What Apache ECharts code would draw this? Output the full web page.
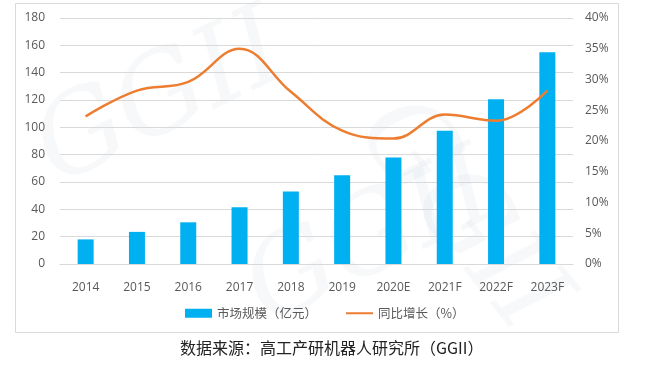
<!DOCTYPE html>
<html><head><meta charset="utf-8">
<script src="https://cdn.jsdelivr.net/npm/echarts@6/dist/echarts.min.js"></script>
<style>html,body{margin:0;padding:0;background:#fff}#c{width:672px;height:374px}</style>
</head><body><div id="c"></div>
<script>
const categories = ['2014','2015','2016','2017','2018','2019','2020E','2021F','2022F','2023F'];
const marketSize = [18, 23.5, 30.5, 41.5, 53, 65, 78, 97.5, 120.5, 155];
const growth = [24, 28.2, 29.6, 35, 28, 21.7, 20.4, 24.3, 23.3, 28.2];
const leftTicks = [0, 180, 20];
const rightTicks = [0, 40, 5];
const seriesNames = ['市场规模（亿元）', '同比增长（%）'];
const caption = '数据来源：高工产研机器人研究所（GGII）';
const watermark = 'GGII';

const chart = echarts.init(document.getElementById('c'), null, {renderer: 'canvas'});
const axisFont = {color: '#595959', fontSize: 12, fontFamily: 'Open Sans, Noto Sans CJK SC, sans-serif'};
const wmStyle = {text: watermark, fill: 'rgba(190,205,222,0.14)', fontSize: 110, fontStyle: 'italic', fontFamily: 'DejaVu Serif, serif'};
chart.setOption({
  animation: false,
  textStyle: {fontFamily: 'Noto Sans CJK SC, sans-serif'},
  graphic: [
    {type: 'rect', shape: {x: 15.5, y: 3.5, width: 603, height: 329}, style: {fill: 'none', stroke: '#d9d9d9', lineWidth: 1}, z: -1},
    {type: 'text', x: 20, y: 110, rotation: 0.45, style: wmStyle, z: -2, silent: true},
    {type: 'text', x: 230, y: 250, rotation: 0.45, style: wmStyle, z: -2, silent: true},
    {type: 'text', x: 420, y: 80, rotation: -0.9, style: wmStyle, z: -2, silent: true},
    {type: 'text', left: 180, top: 340, style: {text: caption, fill: '#222', fontSize: 16, fontFamily: 'Noto Sans CJK SC, sans-serif'}}
  ],
  grid: {left: 60, right: 99, top: 18, bottom: 110, containLabel: false},
  legend: {
    top: 302, left: 180,
    itemGap: 28,
    itemWidth: 27, itemHeight: 9,
    textStyle: {color: '#595959', fontSize: 12.5},
    data: [{name: seriesNames[0], icon: 'rect'}, {name: seriesNames[1], itemStyle: {opacity: 0}}]
  },
  xAxis: {
    type: 'category', data: categories,
    axisLine: {lineStyle: {color: '#d9d9d9'}},
    axisTick: {show: false},
    axisLabel: Object.assign({margin: 18}, axisFont)
  },
  yAxis: [
    {type: 'value', min: leftTicks[0], max: leftTicks[1], interval: leftTicks[2],
     splitLine: {lineStyle: {color: '#d9d9d9'}}, axisLine: {show: false}, axisTick: {show: false},
     axisLabel: Object.assign({margin: 15}, axisFont)},
    {type: 'value', min: rightTicks[0], max: rightTicks[1], interval: rightTicks[2],
     splitLine: {show: false}, axisLine: {show: false}, axisTick: {show: false},
     axisLabel: Object.assign({margin: 12, formatter: '{value}%'}, axisFont)}
  ],
  series: [
    {name: seriesNames[0], type: 'bar', data: marketSize, barWidth: 16,
     itemStyle: {color: '#00B0F0'}},
    {name: seriesNames[1], type: 'line', yAxisIndex: 1, data: growth, smooth: 0.4,
     symbol: 'none', lineStyle: {color: '#ED7D31', width: 2.5}, itemStyle: {color: '#ED7D31'}}
  ]
});
</script></body></html>
